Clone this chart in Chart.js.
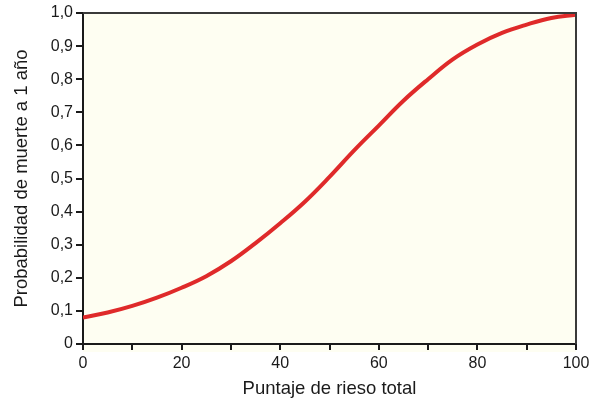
<!DOCTYPE html>
<html>
<head>
<meta charset="utf-8">
<script src="https://cdn.jsdelivr.net/npm/chart.js@4/dist/chart.umd.min.js"></script>
<style>
  html, body { margin: 0; padding: 0; background: #ffffff; }
  #wrap { width: 595px; height: 404px; }
</style>
</head>
<body>
<div id="wrap"><canvas id="chart" width="595" height="404"></canvas></div>
<script>
// Puntaje de riesgo total (x) vs probabilidad de muerte a 1 año (y)
let scores = [0, 5, 10, 15, 20, 25, 30, 35, 40, 45, 50, 55, 60, 65, 70, 75, 80, 85, 90, 95, 100];
let probabilities = [0.08, 0.095, 0.115, 0.14, 0.17, 0.205, 0.25, 0.305, 0.365, 0.43, 0.505, 0.585, 0.66, 0.735, 0.8, 0.86, 0.905, 0.94, 0.965, 0.985, 0.995];
let xTickLabels = ["0", "20", "40", "60", "80", "100"];
let yTickLabels = ["0", "0,1", "0,2", "0,3", "0,4", "0,5", "0,6", "0,7", "0,8", "0,9", "1,0"];

let points = [];
for (let i = 0; i < scores.length; i++) {
  points.push({ x: scores[i], y: probabilities[i] });
}

const fontFamily = "'Liberation Sans', Arial, Helvetica, sans-serif";

// cream plot background plus the thin frame on top and right
const plotFrame = {
  id: "plotFrame",
  beforeDraw(chart) {
    const a = chart.chartArea;
    const ctx = chart.ctx;
    ctx.save();
    ctx.fillStyle = "#fefef2";
    ctx.fillRect(a.left, a.top, a.right - a.left, a.bottom - a.top + 8);
    ctx.restore();
  },
  afterDraw(chart) {
    const a = chart.chartArea;
    const ctx = chart.ctx;
    ctx.save();
    ctx.strokeStyle = "#3a3a3a";
    ctx.lineWidth = 2;
    ctx.beginPath();
    ctx.moveTo(a.left, a.top);
    ctx.lineTo(a.right, a.top);
    ctx.lineTo(a.right, a.bottom);
    ctx.stroke();
    ctx.restore();
  }
};

new Chart(document.getElementById("chart").getContext("2d"), {
  type: "line",
  data: {
    datasets: [
      {
        data: points,
        borderColor: "#df2a2a",
        borderWidth: 4,
        pointRadius: 0,
        fill: false,
        tension: 0.4
      }
    ]
  },
  options: {
    responsive: false,
    animation: false,
    devicePixelRatio: 1,
    layout: { padding: { top: 13, right: 19, bottom: 0, left: 0 } },
    plugins: {
      legend: { display: false },
      tooltip: { enabled: false }
    },
    scales: {
      x: {
        type: "linear",
        min: 0,
        max: 100,
        afterFit: function(scale) { scale.height = 60; },
        border: { display: true, color: "#1a1a1a", width: 2 },
        grid: { drawOnChartArea: false, drawTicks: true, tickLength: 6, color: "#1a1a1a", lineWidth: 2 },
        ticks: {
          stepSize: 10,
          padding: 4,
          color: "#1a1a1a",
          font: { family: fontFamily, size: 16 },
          maxRotation: 0,
          callback: function(v) {
            return v % 20 === 0 ? xTickLabels[v / 20] : "";
          }
        },
        title: {
          display: true,
          text: "Puntaje de rieso total",
          color: "#1a1a1a",
          font: { family: fontFamily, size: 18.5 },
          padding: { top: 0, bottom: 4 }
        }
      },
      y: {
        min: 0,
        max: 1,
        afterFit: function(scale) { scale.width = 83; },
        border: { display: true, color: "#1a1a1a", width: 2 },
        grid: { drawOnChartArea: false, drawTicks: true, tickLength: 7, color: "#1a1a1a", lineWidth: 2 },
        ticks: {
          stepSize: 0.1,
          padding: 3,
          color: "#1a1a1a",
          font: { family: fontFamily, size: 16 },
          callback: function(v) {
            return yTickLabels[Math.round(v * 10)];
          }
        },
        title: {
          display: true,
          text: "Probabilidad de muerte a 1 año",
          color: "#1a1a1a",
          font: { family: fontFamily, size: 18.5 },
          padding: { top: 11, bottom: 0 }
        }
      }
    }
  },
  plugins: [plotFrame]
});
</script>
</body>
</html>
